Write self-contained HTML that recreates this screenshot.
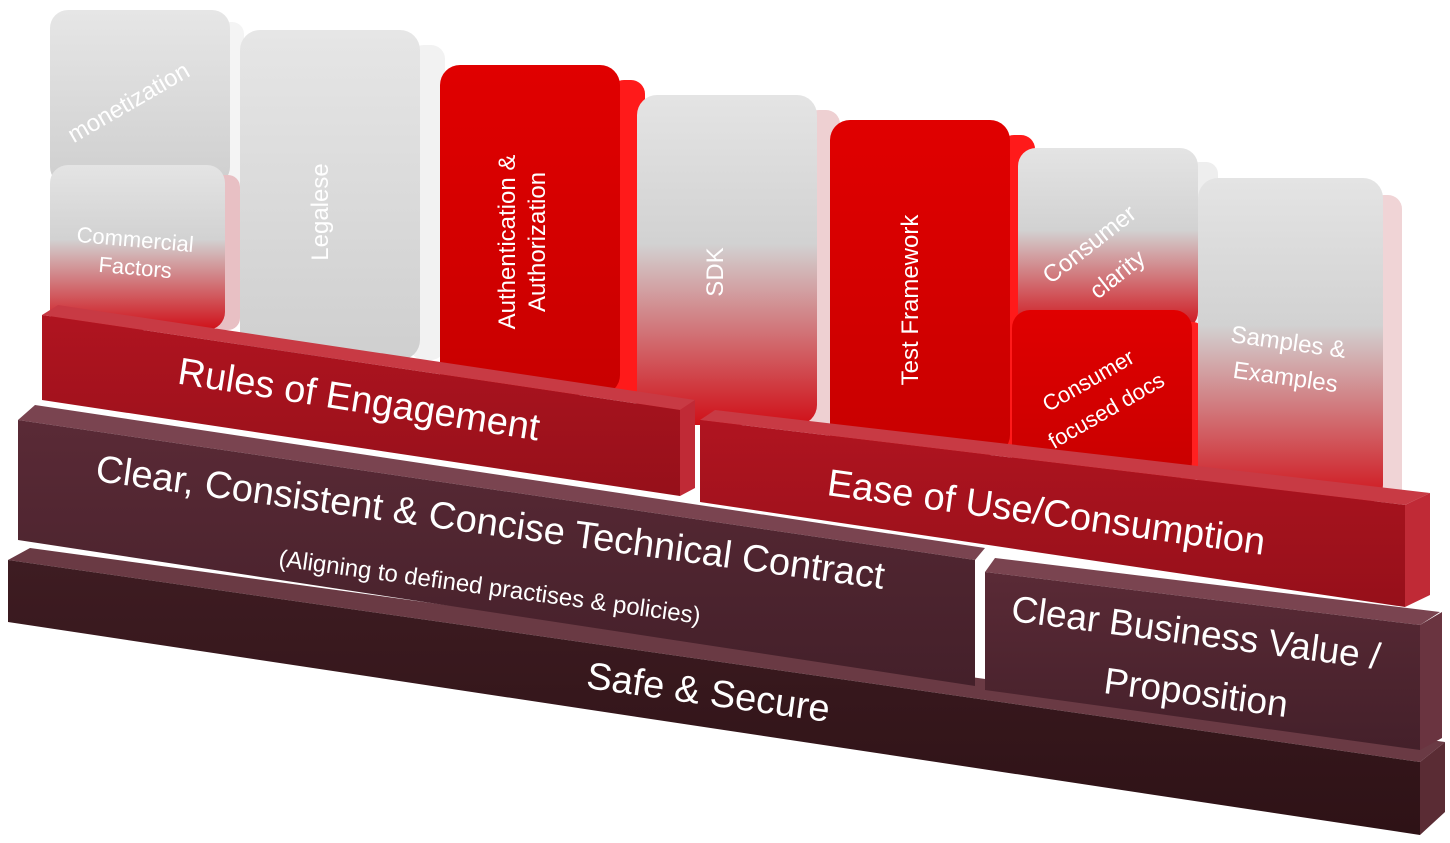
<!DOCTYPE html>
<html><head><meta charset="utf-8"><style>
html,body{margin:0;padding:0;background:#fff;}
svg{display:block;}
text{font-family:"Liberation Sans","DejaVu Sans",sans-serif;fill:#fff;}
</style></head><body>
<svg width="1450" height="843" viewBox="0 0 1450 843" xmlns="http://www.w3.org/2000/svg">
<defs>
<linearGradient id="gr" x1="0" y1="0" x2="0" y2="1">
<stop offset="0" stop-color="#e4e4e4"/><stop offset="0.45" stop-color="#d2d2d2"/><stop offset="1" stop-color="#d01018"/></linearGradient>
<linearGradient id="gg" x1="0" y1="0" x2="0" y2="1">
<stop offset="0" stop-color="#e6e6e6"/><stop offset="1" stop-color="#cfcfcf"/></linearGradient>
<linearGradient id="rd" x1="0" y1="0" x2="0" y2="1">
<stop offset="0" stop-color="#e00000"/><stop offset="1" stop-color="#c80000"/></linearGradient>
<linearGradient id="wine" x1="0" y1="0" x2="0" y2="1">
<stop offset="0" stop-color="#5a2a36"/><stop offset="1" stop-color="#44202a"/></linearGradient>
<linearGradient id="dark" x1="0" y1="0" x2="0" y2="1">
<stop offset="0" stop-color="#3e1c22"/><stop offset="1" stop-color="#2e1216"/></linearGradient>
<linearGradient id="red2" x1="0" y1="0" x2="0" y2="1">
<stop offset="0" stop-color="#b01420"/><stop offset="1" stop-color="#96101a"/></linearGradient>
</defs>

<polygon points="30,548 1445,742 1420,762 8,560" fill="#6a3a44"/>
<polygon points="8,560 1420,762 1420,835 8,622" fill="url(#dark)"/>
<polygon points="1420,762 1445,742 1445,812 1420,835" fill="#5a2c34"/>
<text x="708" y="705" font-size="38" text-anchor="middle" transform="rotate(8 708 695)">Safe &amp; Secure</text>

<polygon points="35,405 985,548 975,560 18,420" fill="#7a4450"/>
<polygon points="18,420 975,560 975,686 18,540" fill="url(#wine)"/>
<polygon points="995,558 1440,612 1420,625 985,572" fill="#7a4450"/>
<polygon points="985,572 1420,625 1420,750 985,690" fill="url(#wine)"/>
<polygon points="1420,625 1442,612 1442,738 1420,750" fill="#6a3440"/>
<text x="490" y="535" font-size="38" text-anchor="middle" transform="rotate(7.8 490 525)">Clear, Consistent &amp; Concise Technical Contract</text>
<text x="490" y="595" font-size="24" text-anchor="middle" transform="rotate(7.8 490 585)">(Aligning to defined practises &amp; policies)</text>
<text x="1195" y="645" font-size="37" text-anchor="middle" transform="rotate(7.5 1195 640)">Clear Business Value /</text>
<text x="1195" y="705" font-size="37" text-anchor="middle" transform="rotate(7.5 1195 700)">Proposition</text>

<g>
<rect x="214" y="22" width="30" height="165" rx="12" fill="#f4f4f4"/>
<rect x="50" y="10" width="180" height="175" rx="18" fill="url(#gg)"/>
<text x="130" y="110" font-size="24" text-anchor="middle" transform="rotate(-30 130 105)">monetization</text>

<rect x="210" y="175" width="30" height="155" rx="12" fill="#e8c0c4"/>
<rect x="50" y="165" width="175" height="165" rx="18" fill="url(#gr)"/>
<text x="135" y="247" font-size="22" text-anchor="middle" transform="rotate(5 135 242)">Commercial</text>
<text x="135" y="275" font-size="22" text-anchor="middle" transform="rotate(5 135 270)">Factors</text>

<rect x="410" y="45" width="35" height="315" rx="14" fill="#f2f2f2"/>
<rect x="240" y="30" width="180" height="330" rx="20" fill="url(#gg)"/>
<text x="328" y="212" font-size="24" text-anchor="middle" transform="rotate(-90 328 212)">Legalese</text>

<rect x="610" y="80" width="35" height="315" rx="14" fill="#ff1a1a"/>
<rect x="440" y="65" width="180" height="330" rx="20" fill="url(#rd)"/>
<text x="515" y="242" font-size="24" text-anchor="middle" transform="rotate(-90 515 242)">Authentication &amp;</text>
<text x="545" y="242" font-size="24" text-anchor="middle" transform="rotate(-90 545 242)">Authorization</text>

<rect x="805" y="110" width="35" height="315" rx="14" fill="#eed0d2"/>
<rect x="637" y="95" width="180" height="330" rx="20" fill="url(#gr)"/>
<text x="723" y="272" font-size="24" text-anchor="middle" transform="rotate(-90 723 272)">SDK</text>

<rect x="1000" y="135" width="35" height="320" rx="14" fill="#ff1a1a"/>
<rect x="830" y="120" width="180" height="335" rx="20" fill="url(#rd)"/>
<text x="918" y="300" font-size="24" text-anchor="middle" transform="rotate(-90 918 300)">Test Framework</text>

<rect x="1188" y="162" width="30" height="170" rx="12" fill="#eeeeee"/>
<rect x="1018" y="148" width="180" height="182" rx="18" fill="url(#gr)"/>
<text x="1090" y="252" font-size="24" text-anchor="middle" transform="rotate(-38 1090 245)">Consumer</text>
<text x="1118" y="282" font-size="24" text-anchor="middle" transform="rotate(-38 1118 275)">clarity</text>

<rect x="1178" y="322" width="25" height="158" rx="10" fill="#ff2020"/>
<rect x="1012" y="310" width="180" height="170" rx="18" fill="url(#rd)"/>
<text x="1088" y="388" font-size="22" text-anchor="middle" transform="rotate(-30 1088 380)">Consumer</text>
<text x="1106" y="418" font-size="22" text-anchor="middle" transform="rotate(-30 1106 410)">focused  docs</text>

<rect x="1370" y="195" width="32" height="310" rx="14" fill="#f0d4d6"/>
<rect x="1198" y="178" width="185" height="327" rx="20" fill="url(#gr)"/>
<text x="1288" y="350" font-size="24" text-anchor="middle" transform="rotate(8 1288 345)">Samples &amp;</text>
<text x="1285" y="385" font-size="24" text-anchor="middle" transform="rotate(8 1285 380)">Examples</text>
</g>

<polygon points="58,305 695,400 680,410 42,315" fill="#c83a44"/>
<polygon points="42,315 680,410 680,496 42,400" fill="url(#red2)"/>
<polygon points="680,410 695,400 695,488 680,496" fill="#c02a36"/>
<text x="358" y="412" font-size="38" text-anchor="middle" transform="rotate(9 358 405)">Rules of Engagement</text>

<polygon points="715,410 1430,493 1405,505 700,420" fill="#c83a44"/>
<polygon points="700,420 1405,505 1405,607 700,502" fill="url(#red2)"/>
<polygon points="1405,505 1430,493 1430,595 1405,607" fill="#c02a36"/>
<text x="1046" y="525" font-size="38" text-anchor="middle" transform="rotate(7.8 1046 515)">Ease of Use/Consumption</text>
</svg>
</body></html>
